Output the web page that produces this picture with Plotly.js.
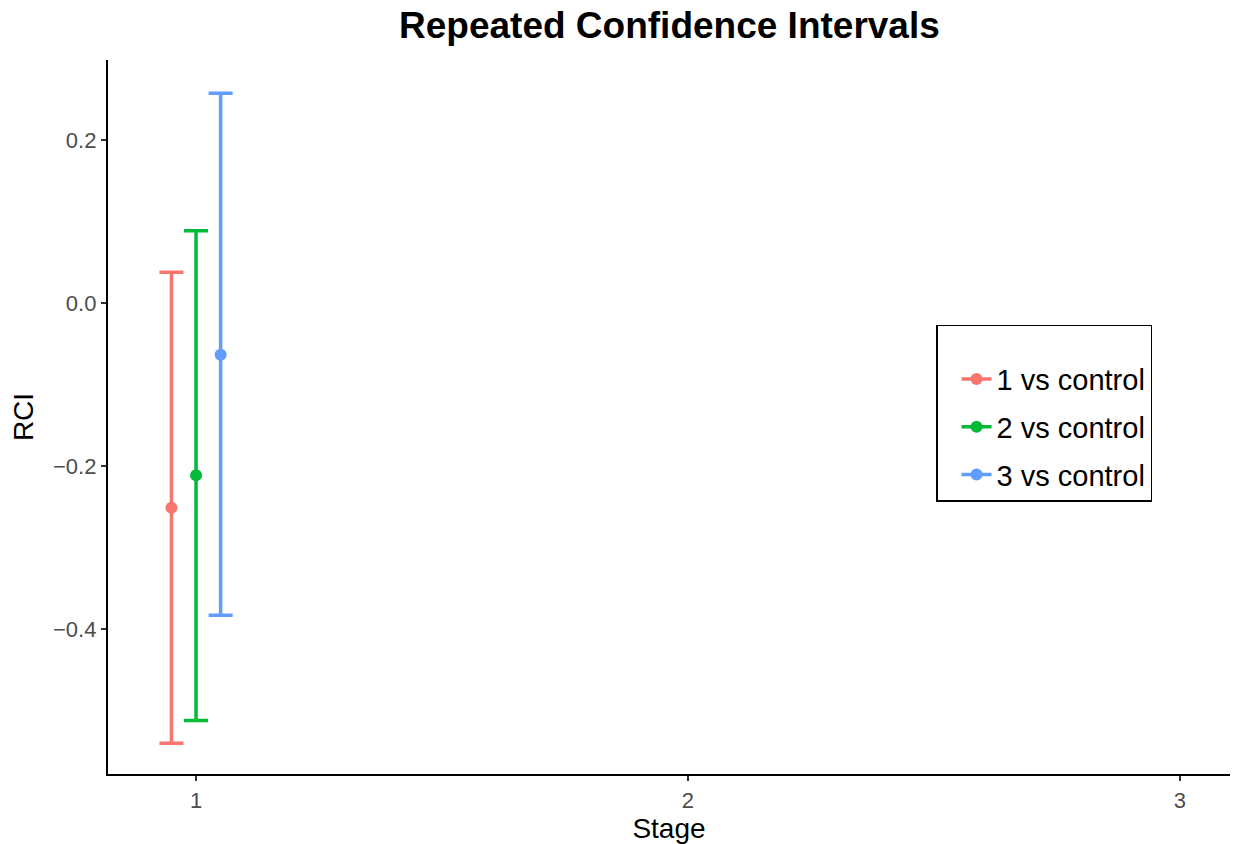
<!DOCTYPE html>
<html><head><meta charset="utf-8">
<script src="https://cdn.plot.ly/plotly-3.0.1.min.js"></script>
<style>html,body{margin:0;padding:0;background:#fff}</style>
</head><body>
<div id="chart" style="width:1236px;height:844px"></div>
<script>
const seriesNames = ["1 vs control", "2 vs control", "3 vs control"];
const seriesColors = ["#F8766D", "#00BA38", "#619CFF"];
const stageX = [0.95, 1.0, 1.05];
const estimate = [-0.251, -0.211, -0.063];
const upper = [0.038, 0.089, 0.258];
const lower = [-0.540, -0.512, -0.383];
const xTicks = [1, 2, 3];
const yTicks = [-0.4, -0.2, 0.0, 0.2];
const yTickLabels = ["\u22120.4", "\u22120.2", "0.0", "0.2"];

const traces = seriesNames.map((name, i) => ({
  type: "scatter",
  mode: "lines+markers",
  name: name,
  legendgroup: "g" + i,
  x: [stageX[i]],
  y: [estimate[i]],
  marker: {color: seriesColors[i], size: 12},
  line: {color: seriesColors[i], width: 3.5},
  error_y: {
    type: "data", symmetric: false,
    array: [upper[i] - estimate[i]],
    arrayminus: [estimate[i] - lower[i]],
    color: seriesColors[i], thickness: 3.5, width: 12
  }
}));

const layout = {
  width: 1236, height: 844,
  margin: {l: 108, r: 6, t: 60, b: 70},
  paper_bgcolor: "#fff", plot_bgcolor: "#fff",
  font: {family: "Liberation Sans, Arial, sans-serif", color: "#000"},
  title: {text: "<b>Repeated Confidence Intervals</b>", x: 0.5416, xanchor: "center", y: 0.970, yanchor: "middle",
          font: {size: 37, color: "#000"}},
  xaxis: {
    range: [0.821, 3.102], tickvals: xTicks, ticktext: xTicks.map(String),
    showgrid: false, zeroline: false, showline: true, linecolor: "#000", linewidth: 2.2,
    ticks: "outside", ticklen: 5, tickwidth: 2, tickcolor: "#333",
    tickfont: {size: 22, color: "#4D4D4D"},
    title: {text: "Stage", font: {size: 28, color: "#000"}, standoff: 4}
  },
  yaxis: {
    range: [-0.5778, 0.2987], tickvals: yTicks, ticktext: yTickLabels,
    showgrid: false, zeroline: false, showline: true, linecolor: "#000", linewidth: 2.2,
    ticks: "outside", ticklen: 5, tickwidth: 2, tickcolor: "#333",
    tickfont: {size: 22, color: "#4D4D4D"},
    title: {text: "RCI", font: {size: 28, color: "#000"}, standoff: 11}
  },
  showlegend: true,
  legend: {
    x: 0.738, y: 0.629, xanchor: "left", yanchor: "top",
    bordercolor: "#000", borderwidth: 1.5, bgcolor: "#fff",
    font: {size: 29, color: "#000"}, tracegroupgap: 7,
    traceorder: "grouped", indentation: 19,
    title: {text: " ", font: {size: 21}}
  }
};

Plotly.newPlot("chart", traces, layout, {displayModeBar: false, staticPlot: true});
</script>
</body></html>
